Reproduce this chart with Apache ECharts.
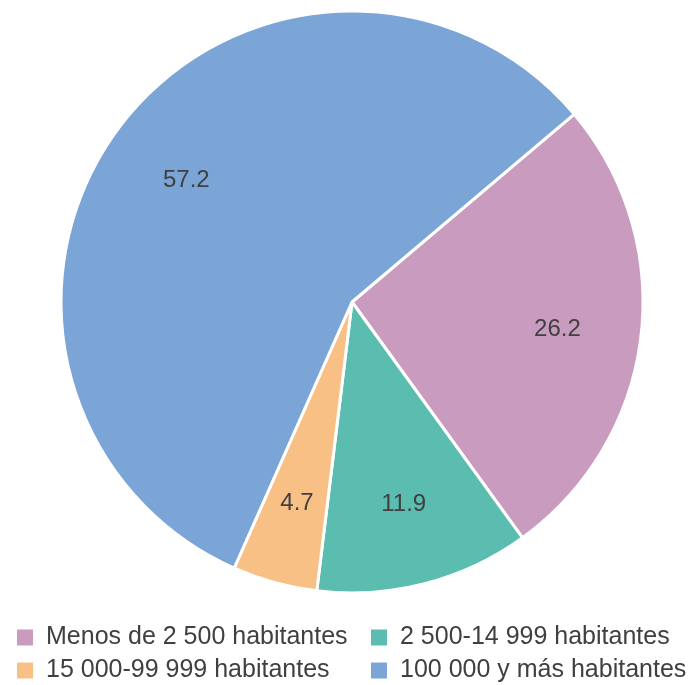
<!DOCTYPE html>
<html>
<head>
<meta charset="utf-8">
<script src="https://cdn.jsdelivr.net/npm/echarts@6/dist/echarts.min.js"></script>
<style>
  html, body { margin: 0; padding: 0; background: #fff; }
  #chart { width: 693px; height: 685px; }
</style>
</head>
<body>
<div id="chart"></div>
<script>
const categories = ['Menos de 2 500 habitantes', '2 500-14 999 habitantes', '15 000-99 999 habitantes', '100 000 y más habitantes'];
const shares = [26.2, 11.9, 4.7, 57.2];
const colors = ['#c99bbf', '#5bbdb0', '#f9c085', '#7ba4d7'];

document.addEventListener('DOMContentLoaded', () => {
  const chart = echarts.init(document.getElementById('chart'));
  const data = categories.map((name, i) => ({
    name,
    value: shares[i],
    itemStyle: { color: colors[i] }
  }));

  const legendText = {
    fontFamily: 'Liberation Sans, Arial, sans-serif',
    fontSize: 25,
    lineHeight: 24,
    color: '#404040',
    padding: [0, 0, 0, 7]
  };

  chart.setOption({
    animation: false,
    legend: [
      {
        orient: 'vertical',
        left: 15,
        top: 625,
        icon: 'rect',
        itemWidth: 18,
        itemHeight: 18,
        itemGap: 8,
        padding: 0,
        data: [categories[0], categories[2]],
        textStyle: legendText
      },
      {
        orient: 'vertical',
        left: 369,
        top: 625,
        icon: 'rect',
        itemWidth: 18,
        itemHeight: 18,
        itemGap: 8,
        padding: 0,
        data: [categories[1], categories[3]],
        textStyle: legendText
      }
    ],
    series: [
      {
        name: 'Población',
        type: 'pie',
        center: [352, 302],
        radius: 291,
        startAngle: 40.2,
        clockwise: true,
        label: { show: false },
        labelLine: { show: false },
        emphasis: { disabled: true },
        itemStyle: { borderColor: '#ffffff', borderWidth: 3 },
        data
      },
      {
        name: 'Etiquetas',
        type: 'pie',
        center: [352, 304],
        radius: [117, 291],
        startAngle: 40.2,
        clockwise: true,
        silent: true,
        emphasis: { disabled: true },
        itemStyle: { color: 'transparent', borderWidth: 0 },
        label: {
          show: true,
          position: 'inside',
          formatter: (p) => p.value.toFixed(1),
          fontFamily: 'Liberation Sans, Arial, sans-serif',
          fontSize: 24,
          color: '#404040'
        },
        labelLine: { show: false },
        data: categories.map((name, i) => ({ name, value: shares[i] }))
      }
    ]
  });

  window.addEventListener('resize', () => chart.resize());
});
</script>
</body>
</html>
